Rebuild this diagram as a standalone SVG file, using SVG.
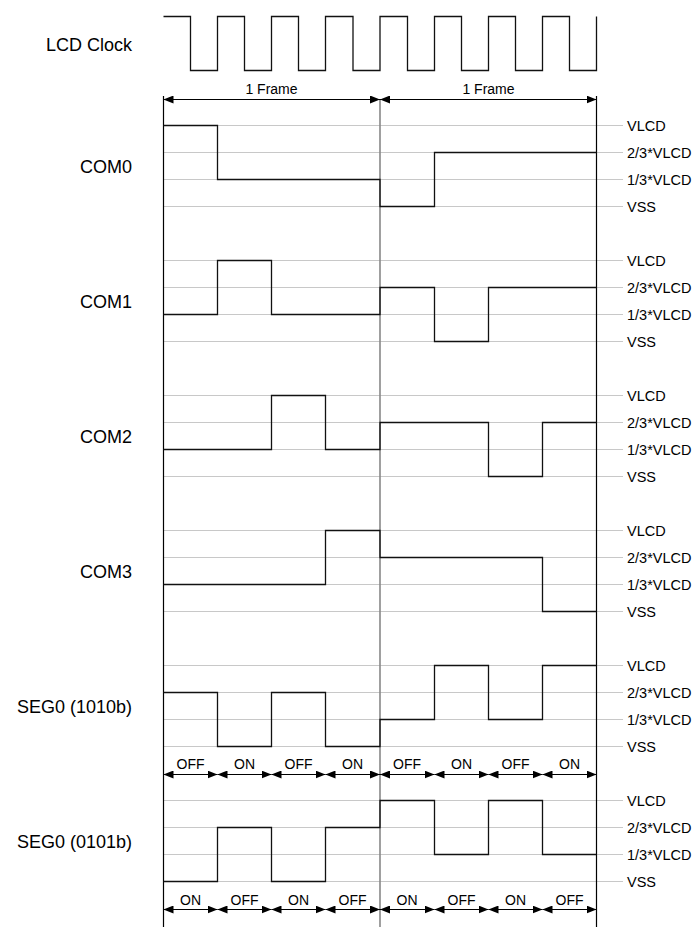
<svg xmlns="http://www.w3.org/2000/svg" width="695" height="929" viewBox="0 0 695 929">
<style>
  .bg{fill:#ffffff}
  .grid{stroke:#c8c8c8;stroke-width:1;fill:none}
  .wave{stroke:#111111;stroke-width:1.3;fill:none;stroke-linejoin:miter}
  .border{stroke:#000000;stroke-width:1.2;fill:none}
  .mid{stroke:#888888;stroke-width:1.6;fill:none}
  .arr{stroke:#000000;stroke-width:1.2;fill:none;marker-start:url(#ah);marker-end:url(#ah)}
  .sig{font-family:"Liberation Sans",Arial,Helvetica,sans-serif;font-size:18px;fill:#000;text-anchor:end}
  .lvl{font-family:"Liberation Sans",Arial,Helvetica,sans-serif;font-size:14.5px;fill:#000}
  .lab{font-family:"Liberation Sans",Arial,Helvetica,sans-serif;font-size:14px;fill:#000;text-anchor:middle}
</style>
<defs>
  <marker id="ah" viewBox="0 0 10 8" refX="10" refY="4" markerWidth="10" markerHeight="8" markerUnits="userSpaceOnUse" orient="auto-start-reverse">
    <path d="M0,0 L10,4 L0,8 z" fill="#000"/>
  </marker>
</defs>
<rect class="bg" x="0" y="0" width="695" height="929"/>

<g id="grid">
  <path class="grid" d="M163.5,125.5H623M163.5,152.5H623M163.5,179.5H623M163.5,206.5H623"/>
  <path class="grid" d="M163.5,260.5H623M163.5,287.5H623M163.5,314.5H623M163.5,341.5H623"/>
  <path class="grid" d="M163.5,395.5H623M163.5,422.5H623M163.5,449.5H623M163.5,476.5H623"/>
  <path class="grid" d="M163.5,530.5H623M163.5,557.5H623M163.5,584.5H623M163.5,611.5H623"/>
  <path class="grid" d="M163.5,665.5H623M163.5,692.5H623M163.5,719.5H623M163.5,746.5H623"/>
  <path class="grid" d="M163.5,800.5H623M163.5,827.5H623M163.5,854.5H623M163.5,881.5H623"/>
</g>

<g id="borders">
  <path class="border" d="M163.5,96V927"/>
  <path class="border" d="M596.5,96V927"/>
  <path class="mid" d="M380,99V927"/>
</g>

<g id="lcd-clock">
  <text class="sig" x="132" y="51">LCD Clock</text>
  <path class="wave" d="M163.5,16.5H190.5V70.5H217.5V16.5H244.5V70.5H271.5V16.5H298.5V70.5H325.5V16.5H353V70.5H380V16.5H407.5V70.5H434.5V16.5H461.5V70.5H488.5V16.5H515.5V70.5H542.5V16.5H569.5V70.5H596.5V16.5"/>
</g>

<g id="com0">
  <text class="sig" x="132" y="172.5">COM0</text>
  <path class="wave" d="M163.5,125.5H217.5V179.5H380V206.5H434.5V152.5H596.5"/>
</g>
<g id="com1">
  <text class="sig" x="132" y="307.5">COM1</text>
  <path class="wave" d="M163.5,314.5H217.5V260.5H271.5V314.5H380V287.5H434.5V341.5H488.5V287.5H596.5"/>
</g>
<g id="com2">
  <text class="sig" x="132" y="442.5">COM2</text>
  <path class="wave" d="M163.5,449.5H271.5V395.5H325.5V449.5H380V422.5H488.5V476.5H542.5V422.5H596.5"/>
</g>
<g id="com3">
  <text class="sig" x="132" y="577.5">COM3</text>
  <path class="wave" d="M163.5,584.5H325.5V530.5H380V557.5H542.5V611.5H596.5"/>
</g>
<g id="seg0-1010b">
  <text class="sig" x="132" y="712.5">SEG0 (1010b)</text>
  <path class="wave" d="M163.5,692.5H217.5V746.5H271.5V692.5H325.5V746.5H380V719.5H434.5V665.5H488.5V719.5H542.5V665.5H596.5"/>
</g>
<g id="seg0-0101b">
  <text class="sig" x="132" y="847.5">SEG0 (0101b)</text>
  <path class="wave" d="M163.5,881.5H217.5V827.5H271.5V881.5H325.5V827.5H380V800.5H434.5V854.5H488.5V800.5H542.5V854.5H596.5"/>
</g>

<g id="levels">
  <text class="lvl" x="627" y="130.5">VLCD</text>
  <text class="lvl" x="627" y="157.5">2/3*VLCD</text>
  <text class="lvl" x="627" y="184.5">1/3*VLCD</text>
  <text class="lvl" x="627" y="211.5">VSS</text>
  <text class="lvl" x="627" y="265.5">VLCD</text>
  <text class="lvl" x="627" y="292.5">2/3*VLCD</text>
  <text class="lvl" x="627" y="319.5">1/3*VLCD</text>
  <text class="lvl" x="627" y="346.5">VSS</text>
  <text class="lvl" x="627" y="400.5">VLCD</text>
  <text class="lvl" x="627" y="427.5">2/3*VLCD</text>
  <text class="lvl" x="627" y="454.5">1/3*VLCD</text>
  <text class="lvl" x="627" y="481.5">VSS</text>
  <text class="lvl" x="627" y="535.5">VLCD</text>
  <text class="lvl" x="627" y="562.5">2/3*VLCD</text>
  <text class="lvl" x="627" y="589.5">1/3*VLCD</text>
  <text class="lvl" x="627" y="616.5">VSS</text>
  <text class="lvl" x="627" y="670.5">VLCD</text>
  <text class="lvl" x="627" y="697.5">2/3*VLCD</text>
  <text class="lvl" x="627" y="724.5">1/3*VLCD</text>
  <text class="lvl" x="627" y="751.5">VSS</text>
  <text class="lvl" x="627" y="805.5">VLCD</text>
  <text class="lvl" x="627" y="832.5">2/3*VLCD</text>
  <text class="lvl" x="627" y="859.5">1/3*VLCD</text>
  <text class="lvl" x="627" y="886.5">VSS</text>
</g>

<g id="connectors">
  <path class="arr" d="M163.5,99.5H380"/>
  <path class="arr" d="M380,99.5H596.5"/>
  <path class="arr" d="M163.5,774.5H217.5"/>
  <path class="arr" d="M217.5,774.5H271.5"/>
  <path class="arr" d="M271.5,774.5H325.5"/>
  <path class="arr" d="M325.5,774.5H380"/>
  <path class="arr" d="M380,774.5H434.5"/>
  <path class="arr" d="M434.5,774.5H488.5"/>
  <path class="arr" d="M488.5,774.5H542.5"/>
  <path class="arr" d="M542.5,774.5H596.5"/>
  <path class="arr" d="M163.5,909.5H217.5"/>
  <path class="arr" d="M217.5,909.5H271.5"/>
  <path class="arr" d="M271.5,909.5H325.5"/>
  <path class="arr" d="M325.5,909.5H380"/>
  <path class="arr" d="M380,909.5H434.5"/>
  <path class="arr" d="M434.5,909.5H488.5"/>
  <path class="arr" d="M488.5,909.5H542.5"/>
  <path class="arr" d="M542.5,909.5H596.5"/>
</g>

<g id="arrow-labels">
  <text class="lab" x="271.5" y="93.5">1 Frame</text>
  <text class="lab" x="488.5" y="93.5">1 Frame</text>
  <text class="lab" x="190.5" y="769">OFF</text>
  <text class="lab" x="244.5" y="769">ON</text>
  <text class="lab" x="298.5" y="769">OFF</text>
  <text class="lab" x="352.5" y="769">ON</text>
  <text class="lab" x="407" y="769">OFF</text>
  <text class="lab" x="461.5" y="769">ON</text>
  <text class="lab" x="515.5" y="769">OFF</text>
  <text class="lab" x="569.5" y="769">ON</text>
  <text class="lab" x="190.5" y="905">ON</text>
  <text class="lab" x="244.5" y="905">OFF</text>
  <text class="lab" x="298.5" y="905">ON</text>
  <text class="lab" x="352.5" y="905">OFF</text>
  <text class="lab" x="407" y="905">ON</text>
  <text class="lab" x="461.5" y="905">OFF</text>
  <text class="lab" x="515.5" y="905">ON</text>
  <text class="lab" x="569.5" y="905">OFF</text>
</g>
</svg>
